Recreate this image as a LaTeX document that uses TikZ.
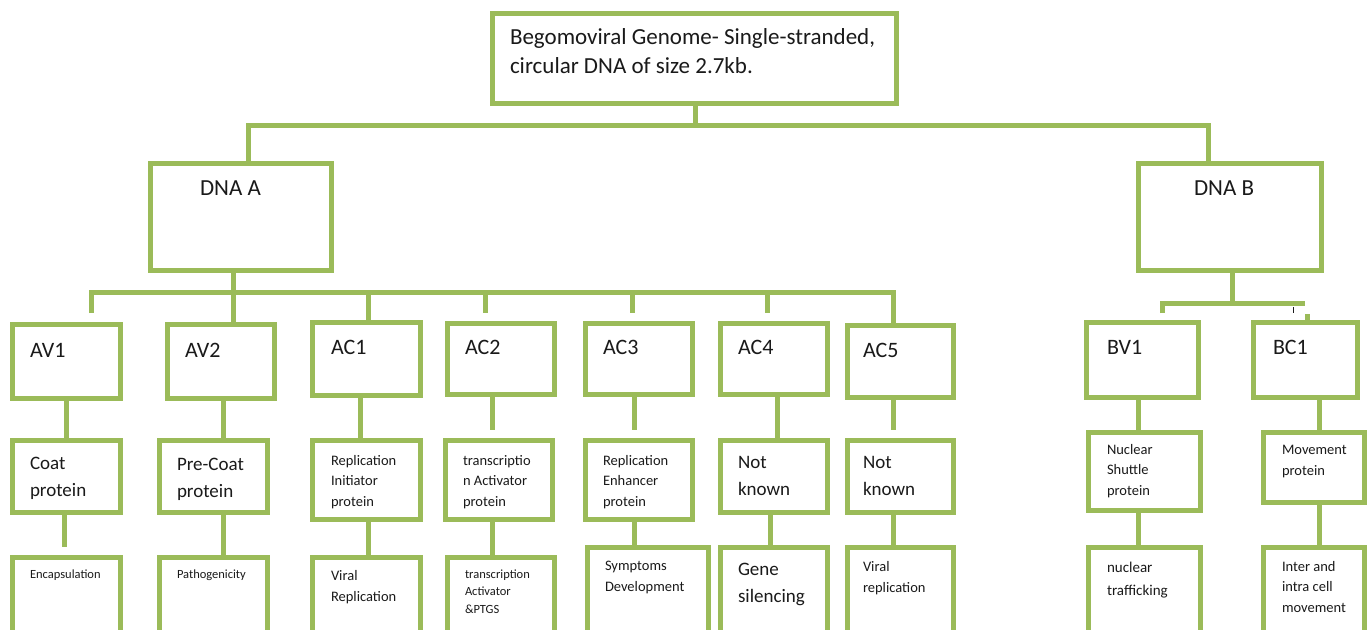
\documentclass[tikz,border=0pt]{standalone}
\usepackage{fontspec}
\setmainfont{Carlito}
\usetikzlibrary{calc}
\definecolor{lgreen}{HTML}{9BBB59}
\definecolor{ink}{HTML}{1A1A1A}
\tikzset{
  boxst/.style={draw=lgreen, line width=5pt, inner sep=0pt, outer sep=0pt, fill=white},
  conn/.style={draw=lgreen, line width=5pt},
  txt/.style={inner sep=0pt, outer sep=0pt, text=ink, align=left, anchor=base west},
  ftop/.style={font=\fontsize{23}{29}\selectfont},
  fdna/.style={font=\fontsize{23}{26}\selectfont},
  fgene/.style={font=\fontsize{22}{26}\selectfont},
  fmed/.style={font=\fontsize{19}{27}\selectfont},
  fsmall/.style={font=\fontsize{14.5}{20.5}\selectfont},
  fnt/.style={font=\fontsize{15}{23}\selectfont},
  ftiny/.style={font=\fontsize{12.5}{17.5}\selectfont},
}
\newcommand\bx[5]{%
  \pgfmathsetmacro\bxw{#4-#2}\pgfmathsetmacro\bxh{#5-#3}%
  \node[boxst, minimum width=\bxw pt, minimum height=\bxh pt, anchor=north west] (#1) at (#2,#3) {};}
\newcommand\link[3]{\coordinate (lx) at (#3,0); \draw[conn] (#1.south -| lx) -- (#2.north -| lx);}
\newcommand\hang[4]{\coordinate (#1a) at (#2,#3); \coordinate (#1b) at (#2,#4); \draw[conn] (#1a) -- (#1b);}
\begin{document}
\begin{tikzpicture}[x=1pt,y=-1pt]
\useasboundingbox (0,0) rectangle (1367,629);
\clip (0,0) rectangle (1367,629);
% ---------- boxes
\bx{top}{492}{13}{896}{103}
\bx{dnaA}{150}{163}{331}{270}
\bx{dnaB}{1138}{163}{1321}{270}
\bx{av1}{12}{324}{120}{398}
\bx{av2}{167}{324}{274}{398}
\bx{ac1}{312}{322}{420}{395}
\bx{ac2}{447}{323}{554}{394}
\bx{ac3}{585}{323}{692}{394}
\bx{ac4}{720}{323}{827}{394}
\bx{ac5}{847}{325}{953}{397}
\bx{bv1}{1086}{322}{1198}{397}
\bx{bc1}{1253}{322}{1357}{397}
\bx{av1p}{12}{440}{120}{512}
\bx{av2p}{159}{440}{267}{512}
\bx{ac1p}{312}{440}{420}{519}
\bx{ac2p}{445}{440}{552}{519}
\bx{ac3p}{585}{440}{692}{519}
\bx{ac4p}{720}{440}{827}{512}
\bx{ac5p}{847}{440}{953}{512}
\bx{bv1p}{1088}{432}{1200}{510}
\bx{bc1p}{1263}{432}{1364}{502}
\bx{av1f}{12}{557}{120}{660}
\bx{av2f}{159}{557}{267}{660}
\bx{ac1f}{312}{557}{420}{660}
\bx{ac2f}{447}{557}{554}{660}
\bx{ac3f}{587}{547}{708}{660}
\bx{ac4f}{720}{547}{827}{660}
\bx{ac5f}{847}{547}{953}{660}
\bx{bv1f}{1088}{547}{1200}{660}
\bx{bc1f}{1263}{547}{1364}{660}
% ---------- genome bus
\coordinate (g0) at (695,125);
\coordinate (gl) at (248,125);
\coordinate (gr) at (1208,125);
\draw[conn] (top.south -| g0) -- (g0);
\draw[conn] (dnaA.north -| gl) -- (gl) -- (gr) -- (dnaB.north -| gr);
% ---------- DNA A bus
\coordinate (a0) at (233,292);
\coordinate (al) at (91,292);
\coordinate (ar) at (893,292);
\coordinate (alf) at (91,313);
\draw[conn] (dnaA.south -| a0) -- (a0) -- (av2.north -| a0);
\draw[conn] (alf) -- (al) -- (ar) -- (ac5.north -| ar);
\coordinate (a3) at (368,292);
\draw[conn] (a3) -- (ac1.north -| a3);
\hang{h1}{485}{292}{313}
\hang{h2}{632}{292}{313}
\hang{h3}{767}{292}{313}
% ---------- DNA B bus
\coordinate (b0) at (1232,303);
\coordinate (bl) at (1162,303);
\coordinate (br) at (1305,303);
\coordinate (blf) at (1162,313);
\draw[conn] (dnaB.south -| b0) -- (b0);
\draw[conn] (blf) -- (bl) -- (br);
\coordinate (bcs) at (1307,314);
\draw[conn] (bcs) -- (bc1.north -| bcs);
\coordinate (tk1) at (1293,307);
\coordinate (tk2) at (1293,313);
\draw[ink, line width=1pt] (tk1) -- (tk2);
% ---------- row 1 to row 2
\link{av1}{av1p}{66}
\link{av2}{av2p}{223}
\link{ac1}{ac1p}{360}
\coordinate (lx) at (492,0); \draw[conn] (ac2.south -| lx) -- ++(0,36) coordinate (e1);
\coordinate (lx) at (634,0); \draw[conn] (ac3.south -| lx) -- ++(0,36) coordinate (e2);
\link{ac4}{ac4p}{777}
\coordinate (lx) at (893,0); \draw[conn] (ac5.south -| lx) -- ++(0,33) coordinate (e3);
\link{bv1}{bv1p}{1138}
\link{bc1}{bc1p}{1319}
% ---------- row 2 to row 3
\coordinate (lx) at (64,0); \draw[conn] (av1p.south -| lx) -- ++(0,35) coordinate (e4);
\link{av2p}{av2f}{223}
\link{ac1p}{ac1f}{368}
\link{ac2p}{ac2f}{492}
\link{ac3p}{ac3f}{634}
\link{ac4p}{ac4f}{770}
\link{ac5p}{ac5f}{893}
\link{bv1p}{bv1f}{1138}
\link{bc1p}{bc1f}{1319}
% ---------- texts (base anchor = baseline of the last line)
\node[txt, ftop] (topt) at (510,73) {Begomoviral Genome- Single-stranded,\\circular DNA of size 2.7kb.};
\node[txt, fdna] (dnaAt) at (200,195) {DNA A};
\node[txt, fdna] (dnaBt) at (1194,195) {DNA B};
\node[txt, fgene] (av1t) at (30,357) {AV1};
\node[txt, fgene] (av2t) at (185,357) {AV2};
\node[txt, fgene] (ac1t) at (331,354) {AC1};
\node[txt, fgene] (ac2t) at (465,354) {AC2};
\node[txt, fgene] (ac3t) at (603,354) {AC3};
\node[txt, fgene] (ac4t) at (738,354) {AC4};
\node[txt, fgene] (ac5t) at (863,357) {AC5};
\node[txt, fgene] (bv1t) at (1107,354) {BV1};
\node[txt, fgene] (bc1t) at (1273,354) {BC1};
\node[txt, fmed] (av1pt) at (30,496) {Coat\\protein};
\node[txt, fmed] (av2pt) at (177,497) {Pre-Coat\\protein};
\node[txt, fsmall] (ac1pt) at (331,506) {Replication\\Initiator\\protein};
\node[txt, fsmall] (ac2pt) at (463,506) {transcriptio\\n Activator\\protein};
\node[txt, fsmall] (ac3pt) at (603,506) {Replication\\Enhancer\\protein};
\node[txt, fmed] (ac4pt) at (738,495) {Not\\known};
\node[txt, fmed] (ac5pt) at (863,495) {Not\\known};
\node[txt, fsmall] (bv1pt) at (1107,495) {Nuclear\\Shuttle\\protein};
\node[txt, fsmall] (bc1pt) at (1282,475) {Movement\\protein};
\node[txt, ftiny] (av1ft) at (30,578) {Encapsulation};
\node[txt, ftiny] (av2ft) at (177,578) {Pathogenicity};
\node[txt, fsmall] (ac1ft) at (331,601) {Viral\\Replication};
\node[txt, ftiny] (ac2ft) at (465,613) {transcription\\Activator\\\&PTGS};
\node[txt, fsmall] (ac3ft) at (605,591) {Symptoms\\Development};
\node[txt, fmed] (ac4ft) at (738,602) {Gene\\silencing};
\node[txt, fsmall] (ac5ft) at (863,592) {Viral\\replication};
\node[txt, fnt] (bv1ft) at (1107,595) {nuclear\\trafficking};
\node[txt, fsmall] (bc1ft) at (1282,612) {Inter and\\intra cell\\movement};
\end{tikzpicture}
\end{document}
